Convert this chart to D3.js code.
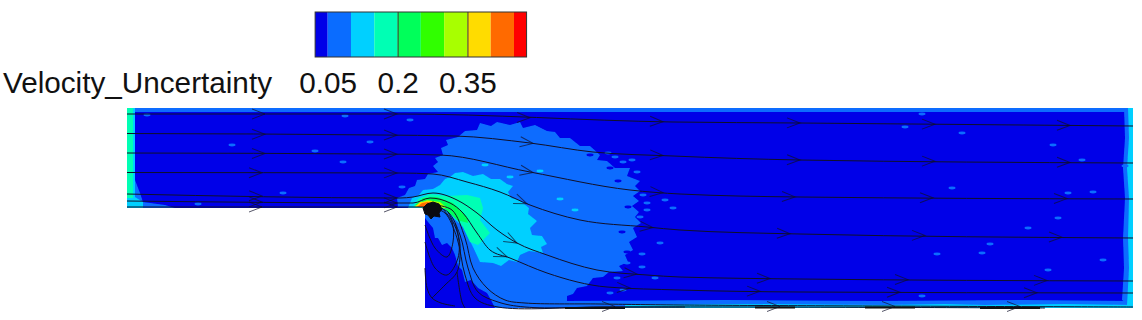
<!DOCTYPE html>
<html>
	<head>
		<meta charset="utf-8">
		<style>
			body{
				margin:0;
				background-color:#fff;
				overflow:hidden;
			}
			text{
				font-family:"Liberation Sans",Arial,sans-serif;
				font-size:29.7px;
				fill:#111;
			}
		</style>
		<script src="https://cdn.jsdelivr.net/npm/d3@7"></script>
	</head>
	<body>
		<svg id="chart" width="1142" height="320"></svg>
<script>
		// contour levels of the colour bar
		var levelEdges=[0.023,0.05,0.1,0.15,0.2,0.25,0.3,0.35,0.4,0.45,0.477];
		var levelColors=["#0000e8","#0a6cff","#00d0ff","#00ffb4","#00ff5a","#30ff00","#a8ff00","#ffdc00","#ff6a00","#ff0000"];
		var tickValues=[0.05,0.2,0.35];
		var tickLabels=["0.05","0.2","0.35"];
		var barTitle="Velocity_Uncertainty";

		// geometry is in step heights, origin at the step corner
		var domainOutline=[[-2.98,1],[7.08,1],[7.08,-1],[0,-1],[0,0],[-2.98,0]];

		var midBlob=[[-0.27,0.01],[-0.28,0.1],[-0.2,0.13],[-0.16,0.2],[-0.1,0.22],[-0.08,0.28],[0,0.29],[0.03,0.34],[0.13,0.36],[0.08,0.42],[0.13,0.46],[0.1,0.5],[0.18,0.53],[0.16,0.6],[0.23,0.63],[0.21,0.68],[0.33,0.71],[0.4,0.77],[0.52,0.78],[0.55,0.85],[0.66,0.82],[0.72,0.86],[0.85,0.83],[0.95,0.86],[0.98,0.8],[1.1,0.83],[1.22,0.77],[1.3,0.76],[1.35,0.7],[1.45,0.7],[1.55,0.62],[1.65,0.62],[1.75,0.53],[1.72,0.48],[1.82,0.47],[1.9,0.4],[2.05,0.4],[2.02,0.32],[2.15,0.27],[2.1,0.22],[2.15,0.17],[2.08,0.12],[2.14,0.07],[2.07,0.02],[2.14,-0.04],[2.1,-0.09],[2.16,-0.15],[2.08,-0.2],[2.12,-0.29],[2.04,-0.34],[2.08,-0.42],[2.0,-0.47],[2.03,-0.54],[1.94,-0.58],[1.98,-0.63],[1.84,-0.64],[1.78,-0.69],[1.68,-0.7],[1.62,-0.78],[1.52,-0.8],[1.48,-0.86],[1.42,-0.88],[1.42,-1],[0.7,-1],[0.66,-0.92],[0.62,-0.85],[0.53,-0.8],[0.46,-0.72],[0.4,-0.74],[0.37,-0.62],[0.33,-0.58],[0.3,-0.47],[0.27,-0.4],[0.22,-0.35],[0.17,-0.37],[0.13,-0.3],[0.1,-0.3],[0.08,-0.2],[0.03,-0.14],[0,-0.1],[0,0]];
		var midTop=[[-2.98,1],[7.08,1],[7.08,0.96],[-2.98,0.96]];
		var midRight=[[6.99,1],[7,0.7],[6.98,0.4],[7,0.1],[6.98,-0.3],[6.99,-0.6],[6.97,-0.92],[7.08,-1],[7.08,1]];
		var midBottom=[[1.4,-0.93],[3,-0.92],[4.5,-0.93],[6,-0.92],[7.08,-0.93],[7.08,-1],[1.4,-1]];
		var midInlet=[[-2.98,0.2],[-2.9,0.28],[-2.85,0.15],[-2.82,0.06],[-2.6,0.03],[-2.5,0],[-2.98,0]];
		var cyanBlob=[[-0.17,0],[-0.13,0.1],[-0.06,0.13],[-0.02,0.18],[0.08,0.19],[0.15,0.23],[0.2,0.29],[0.25,0.31],[0.3,0.35],[0.38,0.36],[0.48,0.32],[0.58,0.34],[0.66,0.29],[0.75,0.29],[0.82,0.24],[0.88,0.22],[0.83,0.16],[0.86,0.1],[0.94,0.08],[0.98,0.05],[1.04,0],[1.03,-0.06],[1.12,-0.13],[1.05,-0.2],[1.07,-0.27],[1.17,-0.28],[1.22,-0.36],[1.16,-0.39],[1.18,-0.45],[1.04,-0.43],[0.95,-0.47],[0.92,-0.54],[0.84,-0.52],[0.76,-0.58],[0.68,-0.55],[0.55,-0.54],[0.48,-0.39],[0.38,-0.19],[0.25,-0.07],[0.15,0.01],[-0.02,0]];
		var cyanRight=[[7.03,1],[7.04,0.7],[7.02,0.4],[7.04,0.1],[7.03,-0.3],[7.04,-0.6],[7.02,-0.97],[7.08,-1],[7.08,1]];
		var cyanBottom=[[2,-0.97],[3.2,-0.96],[4.6,-0.97],[5.2,-0.96],[5.6,-0.97],[6.4,-0.96],[7.08,-0.97],[7.08,-1],[2,-1]];
		var cyanInlet=[[-2.98,1],[-2.9,1],[-2.9,0.11],[-2.82,0.06],[-2.82,0],[-2.98,0]];
		var tealInlet=[[-2.98,1],[-2.92,1],[-2.92,0.1],[-2.98,0.1]];
		var tealBlob=[[-0.12,0.01],[-0.07,0.09],[0.05,0.14],[0.22,0.12],[0.42,0.13],[0.55,0.1],[0.58,0],[0.55,-0.12],[0.65,-0.25],[0.53,-0.37],[0.45,-0.34],[0.38,-0.19],[0.25,-0.02]];
		var greenBlob=[[-0.1,0.03],[-0.02,0.1],[0.12,0.11],[0.28,0.05],[0.42,-0.09],[0.43,-0.15],[0.32,-0.12],[0.18,0.01]];
		var limeBlob=[[-0.1,0.02],[0.02,0.08],[0.15,0.06],[0.22,0]];
		var yellowBlob=[[-0.1,0.01],[-0.05,0.06],[0.05,0.07],[0.12,0.04]];
		var orangeBlob=[[-0.08,0.01],[-0.03,0.05],[0.03,0.06],[0.07,0.05],[0.03,0.01]];
		var knotOutline=[[-0.02,0],[0.02,0.04],[0.08,0.06],[0.14,0.04],[0.17,-0.01],[0.14,-0.05],[0.15,-0.09],[0.09,-0.08],[0.06,-0.11],[0.03,-0.07],[0,-0.06]];

		// [region points, level index]
		var regions=[
			[midBlob,1],[midTop,1],[midRight,1],[midBottom,1],[midInlet,1],
			[cyanBlob,2],[cyanRight,2],[cyanBottom,2],[cyanInlet,2],
			[tealInlet,3],[tealBlob,3],[greenBlob,4],[limeBlob,6],[yellowBlob,7],[orangeBlob,8]
		];

		// small isolated spots [x,y,level index]
		var specks=[[4.97,0.94,1],[5.37,0.75,1],[4.8,0.81,1],[6.28,0.63,1],[6.57,0.48,1],[7,0.42,1],[5.27,0.2,1],[6.43,0.15,1],[6.68,0.16,1],[6.33,-0.1,1],[6.03,-0.2,1],[5.65,-0.36,1],[5.57,-0.45,1],[5.12,-0.46,1],[6.78,-0.52,1],[6.23,-0.62,1],[4.97,-0.88,1],[-2.78,0.93,1],[-0.8,0.92,1],[-1.1,0.57,1],[-1.93,0.63,1],[-0.55,0.66,1],[-0.82,0.46,1],[-0.15,0.88,1],[-1.42,0.15,1],[-2.27,0.04,1],[-0.23,0.21,1],
			[1.35,0.09,2],[0.6,0.43,2],[0.85,0.31,2],[0.7,-0.02,2],[1.15,0.37,2],[1.5,-0.02,2],
			[2.18,0.13,1],[2.22,0.05,1],[2.22,-0.02,1],[2.15,-0.09,1],[2.35,-0.35,1],[2.17,-0.46,1],[2.17,-0.59,1],[2.02,-0.55,1],[1.92,-0.7,1],[1.85,-0.85,1],[1.98,-0.82,1],[2.3,-0.7,1],[2.4,0.08,1],[2.48,0,1],[1.98,0.46,1],[1.9,0.51,1],[2.07,0.48,1],[1.83,0.55,1],[2.12,0.36,1],
			[1.65,0.53,0],[1.97,-0.24,0],[1.93,0.27,0],[2.03,0.01,0],[1.85,0.4,0],[2.17,-0.35,0],[2.02,-0.44,0],[1.85,-0.72,0]];

		// streamlines, x in ascending order, arrows are x positions on them
		var line1=[[-2.98,0.94],[-0.25,0.94],[2.48,0.86],[3.75,0.85],[7.08,0.82]];
		var line2=[[-2.98,0.745],[-0.45,0.73],[0.3,0.72],[1.05,0.65],[1.68,0.56],[2.48,0.52],[3.75,0.48],[7.08,0.45]];
		var line3=[[-2.98,0.55],[-0.45,0.54],[0.15,0.53],[1.05,0.36],[2.05,0.18],[2.55,0.14],[3.75,0.11],[7.08,0.09]];
		var line4=[[-2.98,0.355],[-0.25,0.35],[0.08,0.34],[0.42,0.26],[0.75,0.16],[1.05,0.03],[1.55,-0.12],[2.22,-0.19],[2.55,-0.22],[3.75,-0.26],[7.08,-0.3]];
		var line5=[[-2.98,0.14],[-0.25,0.1],[-0.12,0.11],[0.08,0.15],[0.32,0.08],[0.52,-0.05],[0.72,-0.22],[0.92,-0.35],[1.22,-0.47],[1.72,-0.62],[2.22,-0.67],[2.55,-0.69],[3.75,-0.71],[7.08,-0.73]];
		var line6=[[-2.98,0.07],[-0.25,0.05],[-0.12,0.05],[0.05,0.1],[0.25,0.05],[0.38,-0.05],[0.52,-0.25],[0.65,-0.42],[0.85,-0.5],[1.22,-0.65],[1.82,-0.79],[2.55,-0.82],[3.75,-0.84],[7.08,-0.85]];
		var line7=[[-2.98,0.01],[-0.2,0.01],[0.05,0.01]];
		var arrows1=[-1.6,-0.28,1.05,2.38,3.75,5.1,6.45];
		var arrows2=[-1.6,-0.28,1.08,2.38,3.75,5.1,6.45];
		var arrows3=[-1.6,-0.28,1.08,2.38,3.7,5.08,6.42];
		var arrows4=[-1.63,-0.28,1.02,2.28,3.65,5,6.37];
		var arrows5=[-1.63,-0.28,0.92,2.12,3.45,4.83,6.22];
		var arrows6=[-1.63,-0.28,0.82,2.05,3.35,4.75,6.12];
		var arrows7=[-1.63,-0.28];
		var flowLines=[[line1,arrows1],[line2,arrows2],[line3,arrows3],[line4,arrows4],[line5,arrows5],[line6,arrows6],[line7,arrows7]];

		// lines leaving the corner and running down into the recirculation
		var wallA=[[0.1,0.03],[0.27,-0.02],[0.4,-0.3],[0.48,-0.6],[0.62,-0.8],[0.8,-0.92],[1,-0.95],[1.75,-0.96],[2.55,-0.97],[7.08,-0.99]];
		var wallB=[[0.08,0.02],[0.23,-0.04],[0.35,-0.27],[0.43,-0.6],[0.53,-0.84],[0.73,-0.94],[1,-0.99],[1.95,-0.99],[3.15,-0.99],[6.2,-1]];
		var wallC=[[0.08,0],[0.2,-0.05],[0.32,-0.3],[0.4,-0.67],[0.5,-0.9],[0.73,-0.99],[1.75,-0.99],[2.6,-0.99]];
		var loopA=[[0,-0.17],[0.1,-0.4],[0.22,-0.49],[0.28,-0.34],[0.27,-0.14],[0.17,0]];
		var loopB=[[0,-0.34],[0.1,-0.6],[0.22,-0.67],[0.33,-0.5],[0.33,-0.27],[0.23,-0.04]];
		var loopC=[[0.07,-0.9],[0.2,-0.77],[0.32,-0.64],[0.35,-0.37],[0.3,-0.15]];
		var loopD=[[0.32,-0.64],[0.37,-0.94],[0.4,-1]];
		var loopE=[[0,-0.6],[0.02,-0.8],[0.07,-0.9],[0.16,-0.95],[0.3,-0.98]];
		var cornerLines=[wallA,wallB,wallC,loopA,loopB,loopC,loopD,loopE];

		// dark stretches where lines pile up on the lower wall
		var wallDashes=[[[1.4,-1],[2,-1]],[[3.3,-0.995],[3.7,-0.995]],[[4.4,-0.995],[4.9,-0.995]],[[5.55,-1],[6.15,-1]]];
		var wallArrows=[[1.9,-0.985],[3.55,-0.985],[4.7,-0.985],[5.95,-0.985]];

		var width=1142,height=320;
		var svg=d3.select("#chart");

		var x=d3.scaleLinear().domain([-3,7.1]).range([125,1135]);
		var y=d3.scaleLinear().domain([-1,1]).range([308,108]);
		var legendX=d3.scaleLinear().domain([0.05,0.45]).range([327.7,514]);

		var outline=d3.line().x(function(d){return x(d[0]);}).y(function(d){return y(d[1]);});
		var flowing=d3.line().x(function(d){return x(d[0]);}).y(function(d){return y(d[1]);}).curve(d3.curveMonotoneX);
		var smooth=d3.line().x(function(d){return x(d[0]);}).y(function(d){return y(d[1]);}).curve(d3.curveCatmullRom.alpha(0.5));

		var defs=svg.append("defs");
		defs.append("clipPath").attr("id","domainClip").append("path").attr("d",outline(domainOutline)+"Z");
		defs.append("filter").attr("id","soft").append("feGaussianBlur").attr("stdDeviation",0.6);

		drawLegend();
		drawField();
		drawLines();

		function drawLegend(){
			var bar=svg.append("g");
			bar.selectAll("rect").data(levelColors).enter().append("rect")
				.attr("x",function(d,i){return legendX(levelEdges[i]);})
				.attr("y",12)
				.attr("width",function(d,i){return legendX(levelEdges[i+1])-legendX(levelEdges[i]);})
				.attr("height",45)
				.attr("fill",function(d){return d;});
			bar.append("rect")
				.attr("x",legendX(levelEdges[0])).attr("y",12)
				.attr("width",legendX(levelEdges[10])-legendX(levelEdges[0])).attr("height",45)
				.attr("fill","none").attr("stroke","#333");

			var axis=d3.axisBottom(legendX)
				.tickValues(tickValues)
				.tickFormat(function(d,i){return tickLabels[i];})
				.tickSize(-45)
				.tickPadding(15);
			var g=svg.append("g").attr("transform","translate(0,57)").call(axis);
			g.select(".domain").remove();
			// the first tick does not show against the dark blue
			g.selectAll("line").attr("stroke",function(d,i){return i==0?"none":"#333";});
			g.selectAll("text").style("font-size","29.7px").style("font-family",'"Liberation Sans",Arial,sans-serif').attr("fill","#111");

			svg.append("text").attr("x",3).attr("y",93).text(barTitle);
		}

		function drawField(){
			var field=svg.append("g").attr("clip-path","url(#domainClip)").append("g").attr("filter","url(#soft)");
			field.append("path").attr("d",outline(domainOutline)+"Z").attr("fill",levelColors[0]);
			field.selectAll("path.region").data(regions).enter().append("path")
				.attr("class","region")
				.attr("d",function(d){return outline(d[0])+"Z";})
				.attr("fill",function(d){return levelColors[d[1]];});
			field.selectAll("ellipse").data(specks).enter().append("ellipse")
				.attr("cx",function(d){return x(d[0]);})
				.attr("cy",function(d){return y(d[1]);})
				.attr("rx",3.5).attr("ry",1.4)
				.attr("fill",function(d){return levelColors[d[2]];});
		}

		function drawLines(){
			var g=svg.append("g").attr("fill","none").attr("stroke","#10102a").attr("stroke-width",1);
			flowLines.forEach(function(f){
				g.append("path").attr("d",flowing(f[0]));
				var atX=d3.scaleLinear().domain(f[0].map(function(p){return p[0];})).range(f[0].map(function(p){return p[1];}));
				f[1].forEach(function(a){
					drawArrow(g,a,atX(a),(atX(a+0.05)-atX(a-0.05))/0.1);
				});
			});
			cornerLines.forEach(function(c){
				g.append("path").attr("d",smooth(c));
			});
			wallDashes.forEach(function(w){
				g.append("path").attr("d",outline(w)).attr("stroke-width",2).attr("stroke","#111");
			});
			wallArrows.forEach(function(a){
				drawArrow(g,a[0],a[1],0);
			});
			g.append("path").attr("d",outline(knotOutline)+"Z").attr("fill","#0a0a10").attr("stroke","#0a0a10");
		}

		// open chevron, the tip sits on the line
		function drawArrow(g,ax,ay,slope){
			var angle=Math.atan2(-slope,1)*180/Math.PI;
			g.append("path")
				.attr("transform","translate("+x(ax)+","+y(ay)+") rotate("+angle+")")
				.attr("d","M-13,-5L0,0L-13,5")
				.attr("stroke-opacity",0.7);
		}
</script>
	</body>
</html>
